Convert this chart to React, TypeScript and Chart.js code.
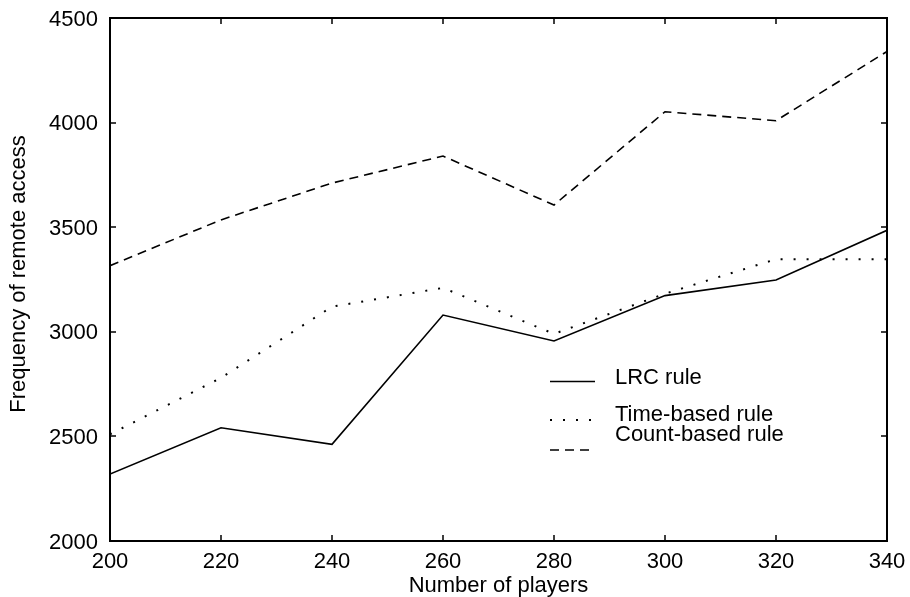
import React, { useEffect, useRef } from "react";
import { Chart, registerables } from "chart.js";

Chart.register(...registerables);

// ---- data ----
const players = [200, 220, 240, 260, 280, 300, 320, 340];
const lrcRule = [2320, 2541, 2462, 3080, 2956, 3173, 3248, 3485];
const timeBasedRule = [2510, 2780, 3120, 3210, 2990, 3182, 3347, 3347];
const countBasedRule = [3316, 3535, 3711, 3840, 3606, 4052, 4009, 4340];
const seriesNames = ["LRC rule", "Time-based rule", "Count-based rule"];
const xTickValues = [200, 220, 240, 260, 280, 300, 320, 340];
const yTickValues = [2000, 2500, 3000, 3500, 4000, 4500];
const xTitle = "Number of players";
const yTitle = "Frequency of remote access";

const FONT = "'Liberation Sans', Arial, Helvetica, sans-serif";
const SOLID: number[] = [];
const DOTS = [2, 11];
const DASHES = [9, 6];

const framePlugin = {
  id: "frameTicks",
  afterLayout(chart: any) {
    const ys = chart.scales.y;
    if (ys && !ys.__shifted) {
      const origTitle = ys.drawTitle.bind(ys);
      ys.drawTitle = function () {
        const c = chart.ctx;
        c.save();
        c.translate(0, -5.5);
        origTitle();
        c.restore();
      };
      const origLabels = ys.drawLabels.bind(ys);
      ys.drawLabels = function (area: any) {
        const c = chart.ctx;
        c.save();
        c.translate(0, 1.5);
        origLabels(area);
        c.restore();
      };
      ys.__shifted = true;
    }
  },
  afterDatasetsDraw(chart: any) {
    const { ctx, chartArea, scales } = chart;
    const { left, right, top, bottom } = chartArea;
    const x = scales.x;
    const y = scales.y;
    const tl = 6;
    ctx.save();
    ctx.strokeStyle = "#000";
    ctx.setLineDash([]);
    ctx.lineWidth = 1.5;
    ctx.beginPath();
    xTickValues.forEach((v) => {
      const px = Math.round(x.getPixelForValue(v));
      ctx.moveTo(px, bottom);
      ctx.lineTo(px, bottom - tl);
      ctx.moveTo(px, top);
      ctx.lineTo(px, top + tl);
    });
    yTickValues.forEach((v) => {
      const py = Math.round(y.getPixelForValue(v));
      ctx.moveTo(left, py);
      ctx.lineTo(left + tl, py);
      ctx.moveTo(right, py);
      ctx.lineTo(right - tl, py);
    });
    ctx.stroke();
    ctx.lineWidth = 2;
    ctx.strokeRect(left, top, right - left, bottom - top);
    ctx.restore();
  },
};

const legendRows = [
  { sampleY: 381.5, textY: 384 },
  { sampleY: 420, textY: 421 },
  { sampleY: 450, textY: 441 },
];

const legendPlugin = {
  id: "insideLegend",
  afterDraw(chart: any) {
    const { ctx } = chart;
    const x0 = 550;
    const x1 = 595;
    const tx = 615;
    ctx.save();
    chart.data.datasets.forEach((ds: any, i: number) => {
      const row = legendRows[i];
      ctx.strokeStyle = "#000";
      ctx.lineWidth = ds.borderWidth;
      ctx.setLineDash(ds.borderDash || []);
      ctx.beginPath();
      ctx.moveTo(x0, row.sampleY);
      ctx.lineTo(x1, row.sampleY);
      ctx.stroke();
      ctx.setLineDash([]);
      ctx.fillStyle = "#000";
      ctx.font = `22px ${FONT}`;
      ctx.textAlign = "left";
      ctx.textBaseline = "alphabetic";
      ctx.fillText(ds.label, tx, row.textY);
    });
    ctx.restore();
  },
};

export default function App() {
  const canvasRef = useRef<HTMLCanvasElement | null>(null);

  useEffect(() => {
    document.body.style.margin = "0";
    const canvas = canvasRef.current;
    if (!canvas) return;
    const mk = (vals: number[]) => players.map((p, i) => ({ x: p, y: vals[i] }));
    const chart = new Chart(canvas, {
      type: "line",
      data: {
        datasets: [
          { label: seriesNames[0], data: mk(lrcRule), borderDash: SOLID, borderWidth: 1.6 },
          { label: seriesNames[1], data: mk(timeBasedRule), borderDash: DOTS, borderWidth: 2 },
          { label: seriesNames[2], data: mk(countBasedRule), borderDash: DASHES, borderWidth: 1.6 },
        ].map((d) => ({
          ...d,
          borderColor: "#000",
          backgroundColor: "#000",
          pointRadius: 0,
          pointHoverRadius: 0,
          tension: 0,
          fill: false,
        })),
      },
      options: {
        animation: false,
        responsive: false,
        devicePixelRatio: 1,
        layout: { padding: { top: 18, right: 23, bottom: 0, left: 0 } },
        plugins: {
          legend: { display: false },
          tooltip: { enabled: false },
        },
        scales: {
          x: {
            type: "linear",
            min: 200,
            max: 340,
            afterBuildTicks: (s: any) => {
              s.ticks = xTickValues.map((v) => ({ value: v }));
            },
            ticks: {
              color: "#000",
              padding: 8,
              maxRotation: 0,
              font: { family: FONT, size: 22, lineHeight: 1.2 },
              callback: (v: any) => String(v),
            },
            grid: { display: false, drawTicks: false },
            border: { display: false },
            title: {
              display: true,
              text: xTitle,
              color: "#000",
              font: { family: FONT, size: 22, lineHeight: 1 },
              padding: { top: 0, bottom: 0 },
            },
            afterFit: (s: any) => {
              s.height = 56;
              s.paddingLeft = 0;
              s.paddingRight = 0;
            },
          },
          y: {
            type: "linear",
            min: 2000,
            max: 4500,
            afterBuildTicks: (s: any) => {
              s.ticks = yTickValues.map((v) => ({ value: v }));
            },
            ticks: {
              color: "#000",
              padding: 12,
              font: { family: FONT, size: 22, lineHeight: 1.2 },
              callback: (v: any) => String(v),
            },
            grid: { display: false, drawTicks: false },
            border: { display: false },
            title: {
              display: true,
              text: yTitle,
              color: "#000",
              font: { family: FONT, size: 22, lineHeight: 1 },
              padding: { top: 8.4, bottom: 0 },
            },
            afterFit: (s: any) => {
              s.width = 110;
              s.paddingTop = 0;
              s.paddingBottom = 0;
            },
          },
        },
      } as any,
      plugins: [framePlugin, legendPlugin],
    });
    return () => chart.destroy();
  }, []);

  return (
    <div style={{ position: "fixed", left: 0, top: 0, width: 910, height: 597, background: "#fff" }}>
      <canvas ref={canvasRef} width={910} height={597} />
    </div>
  );
}
